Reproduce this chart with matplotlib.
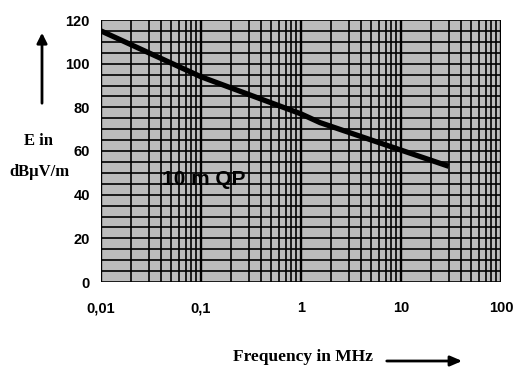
import numpy as np
import matplotlib
matplotlib.use("Agg")
import matplotlib.pyplot as plt
from matplotlib.ticker import FixedLocator, NullFormatter

# --- data ---
freq_mhz = [0.01, 0.1, 1, 1.55, 30]
limit_dbuv = [115, 94, 77, 73, 53]

x_ticks = [0.01, 0.1, 1, 10, 100]
x_tick_labels = ["0,01", "0,1", "1", "10", "100"]
y_ticks = [0, 20, 40, 60, 80, 100, 120]
curve_label = "10 m QP"

sans = ["Liberation Sans Narrow", "Liberation Sans", "DejaVu Sans"]
serif = ["Liberation Serif", "DejaVu Serif"]

fig = plt.figure(figsize=(5.14, 3.74), dpi=100)
ax = fig.add_axes([101 / 514, 1 - 282 / 374, 400 / 514, 262 / 374])

ax.set_xscale("log")
ax.set_xlim(0.01, 100)
ax.set_ylim(0, 120)
ax.set_facecolor("#bcbcbc")

# dense graph-paper grid
minor_x = [m * 10.0 ** e for e in range(-2, 2) for m in range(2, 10)]
ax.xaxis.set_minor_locator(FixedLocator(minor_x))
ax.xaxis.set_minor_formatter(NullFormatter())
ax.yaxis.set_minor_locator(FixedLocator(np.arange(0, 121, 5)))
ax.grid(which="both", color="black", linewidth=1.2)
ax.grid(which="major", axis="x", color="black", linewidth=1.7)
ax.set_axisbelow(True)

ax.plot(freq_mhz, limit_dbuv, color="black", linewidth=3.8, solid_capstyle="butt",
        solid_joinstyle="round")

ax.text(0.107, 47, curve_label, fontsize=15, fontweight="bold", family=sans,
        ha="center", va="center", color="black")

ax.set_xticks(x_ticks)
ax.set_xticklabels(x_tick_labels)
ax.set_yticks(y_ticks)
for lab in ax.get_xticklabels() + ax.get_yticklabels():
    lab.set_family(sans)
    lab.set_fontweight("bold")
    lab.set_fontsize(10.5)
ax.tick_params(which="both", length=0)
ax.tick_params(axis="x", pad=14)
ax.tick_params(axis="y", pad=8)
for sp in ax.spines.values():
    sp.set_visible(False)

# y axis label with arrow
fig.text(39 / 514, 1 - 141 / 374, "E in", fontsize=12, fontweight="bold",
         family=serif, ha="center", va="center")
fig.text(39 / 514, 1 - 172 / 374, "dB\u03bcV/m", fontsize=12, fontweight="bold",
         family=serif, ha="center", va="center")
fig.add_artist(matplotlib.patches.FancyArrowPatch(
    (42 / 514, 1 - 106 / 374), (42 / 514, 1 - 30 / 374), transform=fig.transFigure,
    arrowstyle="-|>,head_length=6,head_width=3", linewidth=2, color="black"))

# x axis label with arrow
fig.text(303 / 514, 1 - 357 / 374, "Frequency in MHz", fontsize=12.5, fontweight="bold",
         family=serif, ha="center", va="center")
fig.add_artist(matplotlib.patches.FancyArrowPatch(
    (384 / 514, 1 - 361 / 374), (465 / 514, 1 - 361 / 374), transform=fig.transFigure,
    arrowstyle="-|>,head_length=7,head_width=3", linewidth=2, color="black"))

fig.savefig("out.png", dpi=100)
